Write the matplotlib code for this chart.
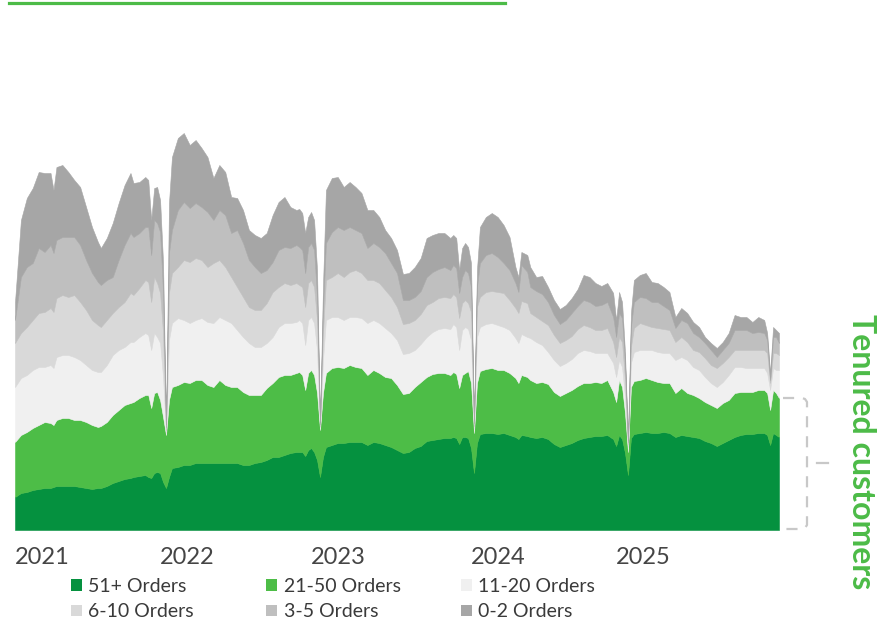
import matplotlib
matplotlib.use("Agg")
import matplotlib.pyplot as plt
from matplotlib.patches import Patch
from matplotlib.lines import Line2D

plt.rcParams['font.family'] = ['Lato', 'DejaVu Sans']

# ---------------- data (weekly index since first week of 2021) ----------------
weeks = (
    [0, 2, 4, 6, 8, 10, 12, 13, 14, 16, 18, 20, 22, 24, 26, 28, 29, 31, 33, 35, 37, 39, 40, 42, 44, 45, 46, 47, 48, 49, 50, 51]
    + [52, 53, 55, 57, 59, 61, 63, 65, 67, 69, 71, 73, 75, 77, 79, 81, 83, 85, 87, 89, 91, 93, 95, 96, 97, 98, 99, 100, 101, 102, 103]
    + [104, 105, 107, 109, 111, 113, 115, 117, 119, 121, 123, 125, 127, 129, 131, 133, 135, 137, 139, 141, 143, 145, 147, 148, 149, 150, 151, 152, 153, 154, 155]
    + [156, 157, 159, 161, 163, 165, 167, 169, 170, 171, 173, 174, 176, 178, 180, 182, 184, 186, 188, 190, 192, 194, 196, 198, 200, 202, 203, 204, 205, 206, 207]
    + [208, 209, 211, 213, 215, 217, 219, 221, 223, 225, 227, 229, 231, 233, 235, 237, 239, 241, 243, 245, 247, 249, 251, 253, 254, 255, 256, 257, 258]
)

orders_51p = (
    [33, 37, 38, 40, 41, 42, 42, 43, 44, 44, 44, 44, 43, 42, 41, 42, 42, 44, 47, 49, 51, 52, 53, 54, 55, 53, 52, 57, 58, 57, 48, 42]
    + [53, 62, 63, 65, 65, 67, 67, 67, 67, 67, 67, 67, 67, 65, 65, 67, 68, 70, 73, 73, 75, 77, 78, 78, 78, 74, 80, 82, 78, 70, 53]
    + [73, 83, 85, 87, 87, 88, 88, 88, 85, 88, 87, 85, 83, 80, 77, 78, 82, 84, 89, 90, 91, 92, 92, 93, 92, 86, 93, 93, 92, 82, 57]
    + [87, 96, 97, 97, 96, 97, 95, 93, 91, 95, 94, 93, 92, 93, 91, 86, 83, 85, 87, 90, 92, 93, 94, 94, 95, 91, 84, 95, 91, 77, 55]
    + [92, 96, 97, 98, 97, 97, 98, 97, 93, 95, 94, 93, 92, 89, 87, 84, 87, 90, 93, 95, 96, 96, 97, 97, 95, 85, 97, 95, 93]
)

orders_21_50 = (
    [55, 58, 60, 62, 64, 66, 65, 62, 66, 68, 68, 66, 67, 66, 64, 61, 62, 64, 68, 71, 74, 75, 75, 78, 80, 82, 70, 80, 80, 73, 65, 53]
    + [77, 81, 82, 83, 82, 83, 83, 78, 76, 83, 78, 76, 76, 73, 70, 68, 67, 72, 74, 80, 80, 78, 79, 80, 77, 66, 77, 78, 77, 67, 47]
    + [64, 74, 77, 76, 75, 77, 75, 74, 70, 72, 70, 68, 69, 65, 59, 59, 61, 64, 64, 66, 66, 65, 63, 65, 64, 56, 62, 64, 67, 65, 40]
    + [60, 63, 64, 65, 64, 63, 62, 59, 56, 60, 59, 57, 55, 55, 55, 52, 51, 52, 53, 54, 55, 54, 54, 53, 55, 47, 44, 55, 52, 40, 23]
    + [51, 53, 53, 54, 53, 51, 49, 50, 44, 47, 43, 42, 40, 39, 38, 38, 40, 40, 44, 43, 42, 42, 43, 43, 42, 35, 43, 42, 39]
)

orders_11_20 = (
    [55, 57, 57, 58, 58, 55, 58, 57, 63, 63, 63, 63, 60, 57, 55, 55, 54, 57, 60, 60, 58, 61, 60, 61, 62, 60, 58, 60, 55, 57, 40, 2]
    + [60, 64, 67, 62, 60, 60, 62, 63, 64, 63, 65, 64, 57, 55, 52, 48, 48, 45, 46, 50, 52, 52, 51, 52, 52, 45, 53, 53, 52, 43, 2]
    + [33, 53, 51, 50, 48, 48, 50, 50, 52, 50, 50, 49, 45, 45, 40, 40, 37, 38, 40, 42, 44, 45, 46, 48, 47, 38, 45, 46, 42, 43, 4]
    + [46, 44, 45, 45, 45, 43, 43, 40, 40, 41, 40, 42, 41, 37, 32, 32, 30, 30, 31, 33, 33, 32, 29, 30, 27, 29, 25, 20, 20, 16, 5]
    + [24, 29, 30, 28, 30, 30, 30, 30, 33, 31, 33, 28, 28, 25, 22, 21, 21, 25, 26, 25, 24, 24, 22, 22, 20, 20, 22, 23, 28]
)

orders_6_10 = (
    [44, 45, 48, 50, 54, 55, 57, 56, 59, 60, 58, 62, 58, 55, 50, 47, 45, 45, 42, 43, 45, 49, 47, 49, 53, 53, 48, 56, 54, 50, 44, 3]
    + [47, 50, 51, 60, 61, 62, 58, 55, 60, 57, 53, 46, 43, 40, 36, 37, 37, 40, 45, 40, 40, 38, 39, 35, 36, 38, 37, 37, 36, 30, 2]
    + [27, 40, 40, 44, 43, 45, 47, 45, 43, 40, 40, 38, 36, 33, 30, 30, 30, 30, 32, 30, 31, 31, 31, 30, 30, 32, 27, 27, 26, 28, 3]
    + [30, 30, 32, 32, 33, 34, 30, 30, 30, 33, 34, 25, 25, 24, 27, 25, 23, 23, 23, 24, 25, 24, 23, 23, 25, 21, 20, 23, 25, 17, 3]
    + [16, 24, 27, 25, 23, 24, 24, 23, 18, 20, 18, 17, 18, 19, 18, 19, 19, 18, 17, 17, 18, 18, 18, 18, 20, 7, 15, 17, 15]
)

orders_3_5 = (
    [23, 56, 60, 57, 65, 60, 63, 59, 58, 58, 60, 58, 57, 50, 47, 43, 42, 40, 36, 47, 57, 60, 58, 55, 53, 55, 47, 57, 60, 61, 40, 3]
    + [40, 43, 57, 58, 54, 55, 53, 55, 43, 50, 52, 44, 57, 54, 47, 43, 37, 33, 30, 37, 36, 37, 38, 38, 37, 34, 36, 37, 37, 23, 2]
    + [23, 37, 45, 46, 47, 45, 40, 40, 32, 37, 36, 37, 34, 34, 24, 23, 23, 23, 28, 30, 29, 30, 28, 29, 29, 25, 26, 30, 30, 25, 3]
    + [20, 34, 37, 38, 35, 30, 30, 25, 21, 36, 31, 26, 26, 27, 23, 20, 19, 20, 23, 23, 25, 25, 24, 25, 26, 25, 20, 24, 24, 17, 2]
    + [20, 26, 26, 27, 25, 26, 23, 20, 14, 17, 19, 17, 15, 15, 15, 11, 13, 14, 20, 20, 20, 17, 18, 17, 13, 3, 16, 16, 12]
)

orders_0_2 = (
    [18, 57, 69, 75, 76, 79, 72, 63, 73, 72, 65, 57, 58, 53, 46, 40, 37, 42, 54, 57, 60, 60, 54, 51, 50, 47, 35, 32, 36, 32, 30, 3]
    + [50, 73, 72, 69, 63, 63, 59, 55, 42, 45, 43, 36, 32, 33, 30, 32, 35, 37, 47, 48, 50, 41, 35, 38, 37, 40, 30, 31, 30, 27, 2]
    + [23, 53, 54, 50, 43, 45, 43, 40, 38, 33, 30, 23, 25, 23, 26, 27, 30, 33, 39, 37, 36, 34, 32, 30, 30, 23, 29, 27, 26, 24, 3]
    + [17, 36, 38, 40, 40, 38, 33, 16, 15, 13, 17, 20, 14, 18, 15, 15, 15, 15, 15, 17, 25, 25, 23, 19, 19, 24, 17, 21, 16, 10, 2]
    + [14, 22, 22, 25, 20, 19, 19, 18, 11, 12, 10, 11, 10, 6, 7, 9, 8, 10, 15, 13, 13, 11, 15, 13, 7, 7, 10, 7, 10]
)

series_labels = ["51+ Orders", "21-50 Orders", "11-20 Orders", "6-10 Orders", "3-5 Orders", "0-2 Orders"]
series_colors = ["#05913f", "#4dbd47", "#f0f0f0", "#d9d9d9", "#bfbfbf", "#a6a6a6"]

year_labels = ["2021", "2022", "2023", "2024", "2025"]
year_tick_weeks = [0, 49, 100, 154, 203]

side_label = "Tenured customers"
GREEN = "#4cbb47"

# ---------------- figure ----------------
W, H = 877, 619
fig = plt.figure(figsize=(W / 100, H / 100), dpi=100)


def fx(px):
    return px / W


def fy(py):
    return 1 - py / H


ax = fig.add_axes([fx(15), fy(530), (779 - 15) / W, (530 - 100) / H])
series = [orders_51p, orders_21_50, orders_11_20, orders_6_10, orders_3_5, orders_0_2]
polys = ax.stackplot(weeks, *series, colors=series_colors, labels=series_labels)
for p, c in zip(polys, series_colors):
    p.set_edgecolor(c)
    p.set_linewidth(0.4)

ax.set_xlim(weeks[0], weeks[-1])
ax.set_ylim(0, 430)
for s in ax.spines.values():
    s.set_visible(False)
ax.set_yticks([])
ax.set_xticks(year_tick_weeks)
ax.set_xticklabels(year_labels, ha='left', fontsize=17, color='#454545')
ax.tick_params(axis='x', length=0, pad=12)

# legend: three columns, two rows (row-wise order)
col_left_px = [71, 266, 461]
for c, xpx in enumerate(col_left_px):
    idx = [c, c + 3]
    handles = [Patch(facecolor=series_colors[i], edgecolor='none', label=series_labels[i]) for i in idx]
    fig.legend(handles=handles, loc='upper left', bbox_to_anchor=(fx(xpx), fy(578)), ncol=1,
               frameon=False, fontsize=14, handlelength=0.55, handleheight=0.55, handletextpad=0.35,
               labelspacing=0.43, borderpad=0, borderaxespad=0, labelcolor='#3a3a3a')

# top decorative rule
fig.add_artist(Line2D([fx(9), fx(505)], [fy(3), fy(3)], color=GREEN, lw=2.3, transform=fig.transFigure))

# bracket on the right
bx = [783, 802, 805, 807, 807, 805, 802, 783]
by = [398, 398, 399, 402, 525, 528, 529, 529]
fig.add_artist(Line2D([fx(v) for v in bx], [fy(v) for v in by], color='#c8c8c8', lw=1.6,
                      linestyle=(0, (5, 4)), transform=fig.transFigure))
fig.add_artist(Line2D([fx(817), fx(828)], [fy(463), fy(463)], color='#c8c8c8', lw=1.6,
                      transform=fig.transFigure))

fig.text(fx(862), fy(452), side_label, rotation=270, ha='center', va='center',
         color=GREEN, fontsize=23, fontweight='bold')

fig.savefig("out.png", dpi=100)
